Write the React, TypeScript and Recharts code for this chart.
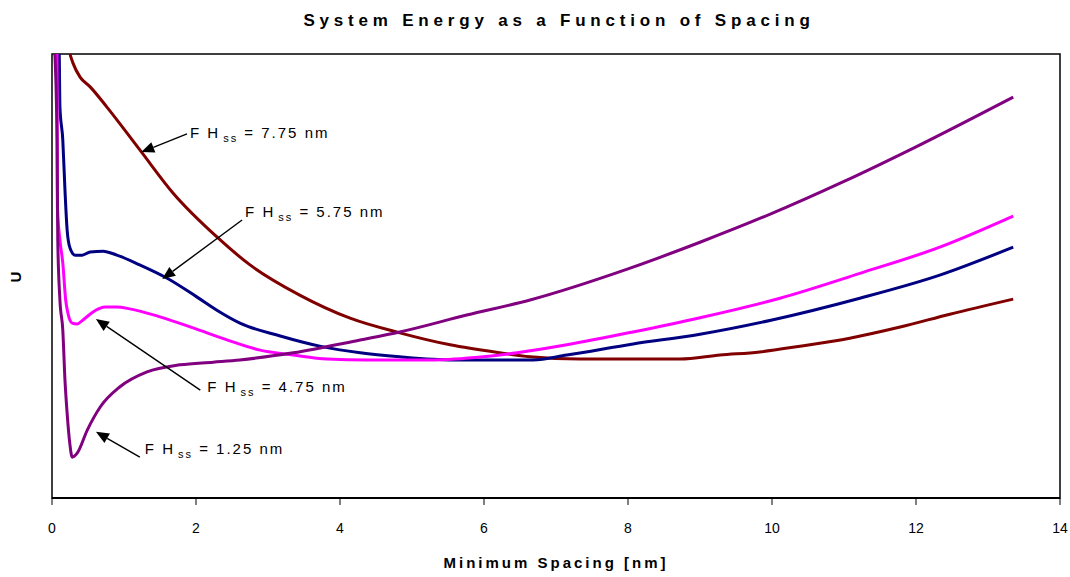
import { LineChart, Line, XAxis, YAxis, ReferenceArea, ReferenceLine } from 'recharts';

const FONT = '"Liberation Sans", Arial, Helvetica, sans-serif';

const xTicks = [0, 2, 4, 6, 8, 10, 12, 14];

// [minimum spacing (nm), U (arbitrary units)]
const fh775 = [
  [0.22, 102.3], [0.25, 100], [0.29, 98.0], [0.39, 94.8], [0.53, 92.6], [0.76, 88.1],
  [1.22, 78.4], [1.68, 68.7], [2.29, 58.8], [2.75, 52.5], [3.44, 45.7], [4.14, 40.5],
  [4.83, 37.2], [5.53, 34.5], [6.22, 32.7], [6.64, 31.8], [7.33, 31.3], [8.72, 31.3],
  [9.28, 32.2], [9.83, 32.9], [10.39, 34.2], [11.08, 36.0], [11.78, 38.5], [12.47, 41.4],
  [13.35, 44.8],
];

const fh575 = [
  [0.08, 103], [0.1, 100], [0.11, 88.1], [0.15, 80.6], [0.18, 69.4], [0.21, 60.4],
  [0.25, 56.3], [0.32, 54.7], [0.42, 54.7], [0.53, 55.4], [0.71, 55.6], [0.9, 54.7],
  [1.22, 52.5], [1.6, 49.5], [2.01, 45.3], [2.29, 42.3], [2.61, 39.4], [3.17, 36.5],
  [3.72, 34.2], [4.28, 32.7], [4.83, 31.8], [5.57, 31.1], [6.68, 31.1], [7.15, 32.2],
  [8.07, 34.7], [9.0, 36.9], [10.0, 40.1], [11.22, 45.0], [12.33, 50.2], [13.35, 56.5],
];

const fh475 = [
  [0.06, 103], [0.07, 100], [0.075, 65.5], [0.11, 58.1], [0.15, 52.9], [0.19, 44.6],
  [0.22, 41.7], [0.28, 39.4], [0.35, 39.2], [0.43, 40.1], [0.57, 41.9], [0.74, 43.0],
  [0.9, 43.0], [1.08, 42.6], [1.5, 40.8], [1.96, 38.3], [2.43, 35.6], [2.89, 33.3],
  [3.35, 32.2], [3.82, 31.3], [4.38, 31.1], [5.29, 31.1], [5.99, 31.8], [6.46, 32.7],
  [7.15, 34.5], [8.07, 37.4], [9.0, 40.6], [10.11, 45.0], [11.22, 50.6], [12.33, 56.5],
  [13.35, 63.5],
];

const fh125 = [
  [0.03, 103], [0.04, 100], [0.07, 80.6], [0.08, 58.1], [0.11, 44.6], [0.15, 37.8],
  [0.18, 26.6], [0.21, 19.1], [0.25, 11.9], [0.28, 9.2], [0.35, 10.1], [0.49, 15.3],
  [0.67, 20.5], [0.94, 25.0], [1.32, 28.4], [1.78, 30.0], [2.24, 30.6], [2.61, 31.1],
  [3.35, 32.7], [4.28, 35.6], [4.83, 37.4], [5.76, 41.2], [6.64, 44.6], [8.0, 51.6],
  [9.0, 57.6], [10.0, 64.1], [11.0, 71.3], [12.0, 79.1], [13.35, 90.3],
];

// annotation arrows: tail (text end) -> tip, in data units
const annotationLabels = ['7.75', '5.75', '4.75', '1.25'];
const annotationTails = [[1.875, 82.0], [2.64, 62.6], [2.06, 24.3], [1.22, 9.2]];
const annotationTips = [[1.24, 77.9], [1.53, 49.3], [0.61, 40.3], [0.61, 14.9]];
const textOffsets = [[3, 4], [3, -3], [7, 2], [5, -3]];

const toPoints = (arr: number[][]) => arr.map(([x, u]) => ({ x, u }));

const series = [
  { key: 'fh775', color: '#800000', data: toPoints(fh775) },
  { key: 'fh575', color: '#000080', data: toPoints(fh575) },
  { key: 'fh475', color: '#ff00ff', data: toPoints(fh475) },
  { key: 'fh125', color: '#800080', data: toPoints(fh125) },
];

function arrowShape(label: string, offset: number[]) {
  return (props: any) => {
    const { x1, y1, x2, y2 } = props;
    const ang = Math.atan2(y2 - y1, x2 - x1);
    const len = 13;
    const half = 5.5;
    const bx = x2 - len * Math.cos(ang);
    const by = y2 - len * Math.sin(ang);
    const px = -Math.sin(ang) * half;
    const py = Math.cos(ang) * half;
    return (
      <g>
        <line x1={x1} y1={y1} x2={bx} y2={by} stroke="#000" strokeWidth={1.4} />
        <polygon points={`${x2},${y2} ${bx + px},${by + py} ${bx - px},${by - py}`} fill="#000" />
        <text x={x1 + offset[0]} y={y1 + offset[1]} fontFamily={FONT} fontSize={15} letterSpacing={2} fill="#000">
          F H
          <tspan fontSize={11} dx={3} dy={4}>ss</tspan>
          <tspan dy={-4}>{` = ${label} nm`}</tspan>
        </text>
      </g>
    );
  };
}

export default function App() {
  return (
    <div style={{ position: 'absolute', left: 0, top: 0, width: 1070, height: 577, background: '#fff' }}>
      <LineChart width={1070} height={577} margin={{ top: 54, right: 10, bottom: 29, left: 52 }}>
        <XAxis
          dataKey="x"
          type="number"
          domain={[0, 14]}
          ticks={xTicks}
          allowDataOverflow
          height={50}
          tickSize={7}
          tickMargin={18}
          axisLine={{ stroke: '#000', strokeWidth: 2 }}
          tickLine={{ stroke: '#000', strokeWidth: 1 }}
          tick={{ fill: '#000', fontSize: 14, fontFamily: FONT }}
        />
        <YAxis hide type="number" domain={[0, 100]} allowDataOverflow />
        {series.map((s) => (
          <Line
            key={s.key}
            data={s.data}
            dataKey="u"
            type="monotone"
            stroke={s.color}
            strokeWidth={3}
            dot={false}
            activeDot={false}
            isAnimationActive={false}
          />
        ))}
        <ReferenceArea x1={0} x2={14} y1={0} y2={100} fill="none" fillOpacity={0} stroke="#000" strokeWidth={1.5} />
        {annotationLabels.map((label, i) => (
          <ReferenceLine
            key={label}
            segment={[
              { x: annotationTails[i][0], y: annotationTails[i][1] },
              { x: annotationTips[i][0], y: annotationTips[i][1] },
            ]}
            shape={arrowShape(label, textOffsets[i])}
          />
        ))}
      </LineChart>
      <svg width={1070} height={577} style={{ position: 'absolute', left: 0, top: 0, pointerEvents: 'none' }}>
        <text x={559} y={26} textAnchor="middle" fontFamily={FONT} fontWeight="bold" fontSize={17} letterSpacing={4.8} fill="#000">
          System Energy as a Function of Spacing
        </text>
        <text x={556} y={568} textAnchor="middle" fontFamily={FONT} fontWeight="bold" fontSize={15} letterSpacing={3} fill="#000">
          Minimum Spacing [nm]
        </text>
        <text x={21} y={277} textAnchor="middle" transform="rotate(-90 21 277)" fontFamily={FONT} fontWeight="bold" fontSize={15} fill="#000">
          U
        </text>
      </svg>
    </div>
  );
}
